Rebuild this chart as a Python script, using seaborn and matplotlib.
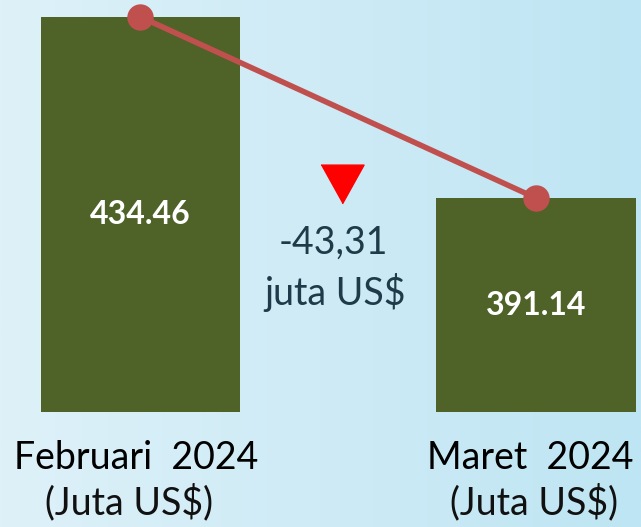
import numpy as np
import matplotlib
matplotlib.use("Agg")
import matplotlib.pyplot as plt
import seaborn as sns
from matplotlib.colors import LinearSegmentedColormap
from matplotlib.transforms import blended_transform_factory

# data
months = ["Februari  2024", "Maret  2024"]
values = [434.46, 391.14]
value_labels = ["434.46", "391.14"]
unit_label = "(Juta US$)"
change_label = "-43,31"
change_unit = "juta US$"

bar_color = "#4F6228"
line_color = "#C0504D"
text_dark = "#1F3A48"

sns.set_theme(style="white")
plt.rcParams["font.family"] = ["Lato", "DejaVu Sans"]

fig = plt.figure(figsize=(6.41, 5.27), dpi=100)

# background gradient
bg = fig.add_axes([0, 0, 1, 1])
grad = np.linspace(0, 1, 256).reshape(1, -1)
cmap_bg = LinearSegmentedColormap.from_list("bg", ["#DEF1F9", "#BEE5F3"])
bg.imshow(grad, aspect="auto", cmap=cmap_bg, extent=[0, 1, 0, 1])
bg.set_xlim(0, 1)
bg.set_ylim(0, 1)
bg.axis("off")

# main axes: bottom edge = chart baseline
ymin = 340
ax = fig.add_axes([0, 115 / 527, 1, 412 / 527])
ax.patch.set_alpha(0)
sns.barplot(x=months, y=values, color=bar_color, saturation=1, width=0.505,
            linewidth=0, ax=ax)
sns.pointplot(x=months, y=values, color=line_color, markers="o", linestyles="-",
              markersize=16, linewidth=4, errorbar=None, ax=ax)
for art in ax.collections + ax.lines:
    art.set_clip_on(False)
ax.set_xlim(-0.355, 1.265)
ax.set_ylim(ymin, 438.5)
ax.axis("off")

# values inside bars
for i, (v, lab) in enumerate(zip(values, value_labels)):
    ax.text(i, (v + ymin) / 2, lab, color="white", fontsize=23, fontweight="bold",
            ha="center", va="center")

# category labels below bars
trans = blended_transform_factory(ax.transData, fig.transFigure)
label_x = [-0.01, 0.985]
unit_x = [-0.03, 0.995]
for i, m in enumerate(months):
    ax.text(label_x[i], 1 - 469 / 527, m, transform=trans, fontsize=27,
            color="black", ha="center", va="baseline")
    ax.text(unit_x[i], 1 - 514 / 527, unit_label, transform=trans, fontsize=27,
            color="#111111", ha="center", va="baseline")

# change indicator (slightly flattened down-triangle)
tri = [(-1, 0.9), (1, 0.9), (0, -0.9)]
bg.plot([0.5335], [1 - 184 / 527], marker=tri, markersize=31, color="#FF0000",
        linestyle="none")
fig.text(333 / 641, 1 - 243 / 527, change_label, fontsize=27,
         color=text_dark, ha="center", va="center")
fig.text(335 / 641, 1 - 292 / 527, change_unit, fontsize=27,
         color=text_dark, ha="center", va="center")

fig.savefig("out.png", dpi=100)
